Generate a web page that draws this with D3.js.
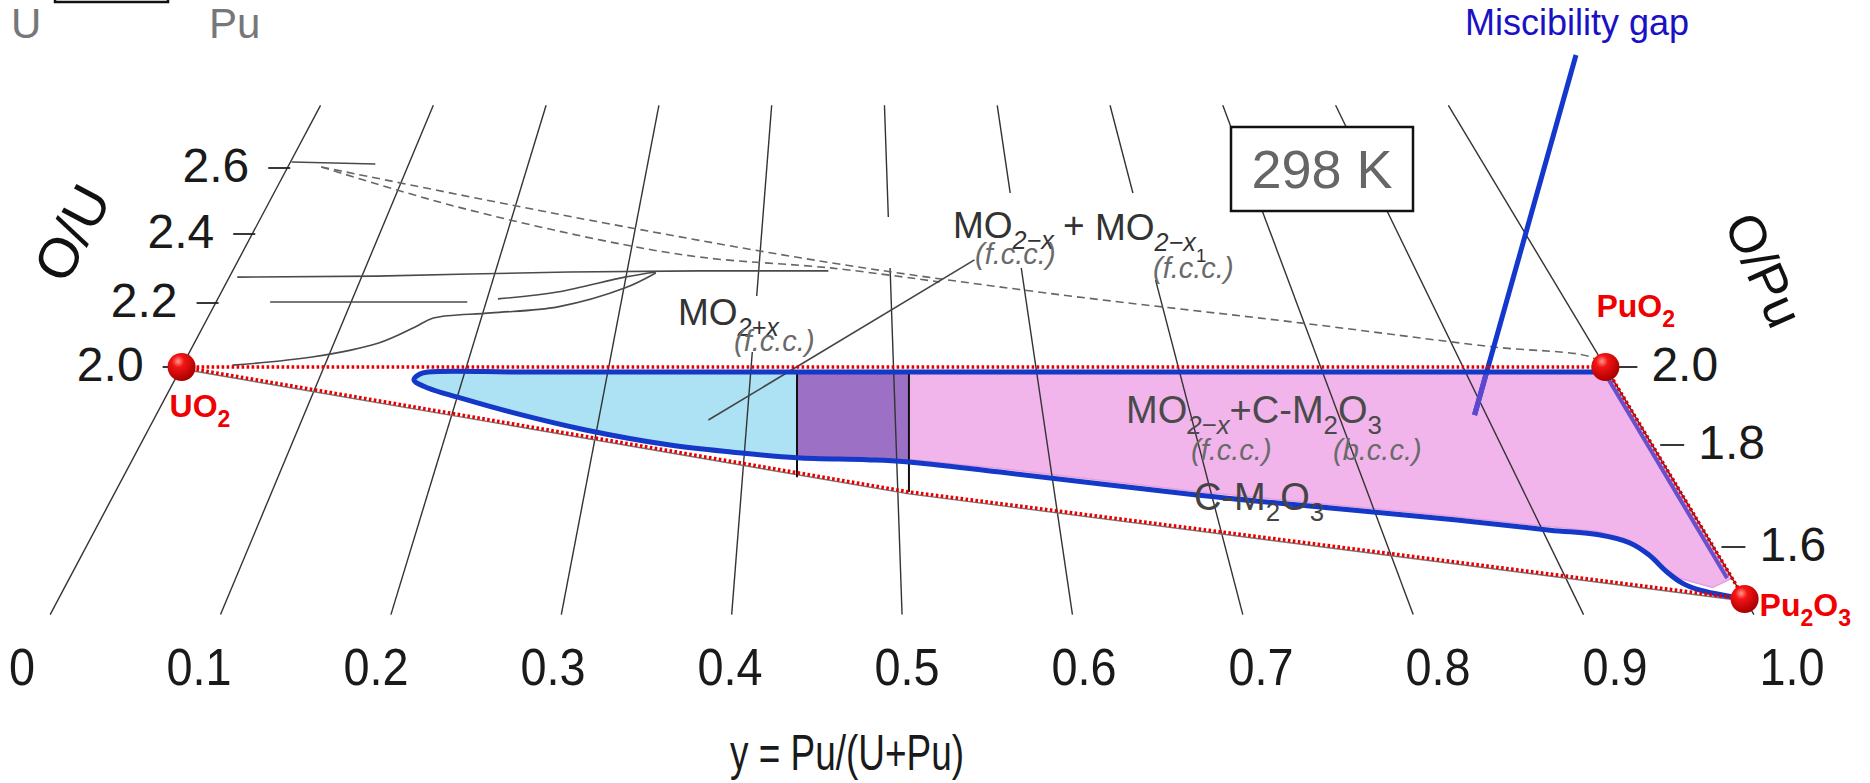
<!DOCTYPE html>
<html>
<head>
<meta charset="utf-8">
<title>U-Pu-O at 298 K</title>
<script src="https://cdn.jsdelivr.net/npm/d3@7"></script>
<style>
  html, body { margin: 0; padding: 0; background: #fff; }
  svg { display: block; }
  text { font-family: "Liberation Sans", Arial, sans-serif; }
</style>
</head>
<body>
<svg id="chart"></svg>
<script>
// ---- values: [y = Pu/(U+Pu), O/M] ----
const puFractions = [0, 0.1, 0.2, 0.3, 0.4, 0.5, 0.6, 0.7, 0.8, 0.9, 1.0];
const puTickLabels = ["0", "0.1", "0.2", "0.3", "0.4", "0.5", "0.6", "0.7", "0.8", "0.9", "1.0"];
const ouTicks = [2.0, 2.2, 2.4, 2.6];
const opuTicks = [2.0, 1.8, 1.6];

const endMembers = [
  { name: "UO2",   parts: [["UO", 0], ["2", 1]],             u: 0, om: 2.0 },
  { name: "PuO2",  parts: [["PuO", 0], ["2", 1]],            u: 1, om: 2.0 },
  { name: "Pu2O3", parts: [["Pu", 0], ["2", 1], ["O", 0], ["3", 1]], u: 1, om: 1.5 }
];

// blue boundary of the MO2-x / miscibility-gap field
const phaseBoundary = [
  [0.994, 1.987], [0.60, 1.987], [0.25, 1.987], [0.1742, 1.987], [0.1691, 1.982],
  [0.1663, 1.967], [0.1779, 1.946], [0.2021, 1.921], [0.2389, 1.885], [0.2935, 1.838],
  [0.3504, 1.800], [0.3925, 1.786], [0.4347, 1.775], [0.4805, 1.771], [0.5060, 1.767],
  [0.5667, 1.747], [0.6906, 1.702], [0.7745, 1.676], [0.8496, 1.653], [0.9047, 1.633],
  [0.9335, 1.624], [0.9501, 1.608], [0.9577, 1.585], [0.9629, 1.552], [0.9682, 1.531],
  [0.9766, 1.517], [0.9938, 1.504], [1.0, 1.5]
];
const singlePhaseRegion = [
  [0.4324, 1.987], [0.25, 1.987], [0.1742, 1.987], [0.1691, 1.982], [0.1663, 1.967],
  [0.1779, 1.946], [0.2021, 1.921], [0.2389, 1.885], [0.2935, 1.838], [0.3504, 1.800],
  [0.3925, 1.786], [0.4347, 1.775]
];
const overlapRegion = [[0.4324, 1.987], [0.5107, 1.987], [0.5080, 1.766], [0.4805, 1.771], [0.4347, 1.775]];
const gapRegion = [
  [0.5107, 1.987], [0.994, 1.987], [1.0, 1.975], [1.0, 1.54], [0.985, 1.522], [0.9682, 1.540],
  [0.9629, 1.560], [0.9577, 1.592], [0.9501, 1.615], [0.9335, 1.631], [0.9047, 1.640],
  [0.8496, 1.660], [0.7745, 1.683], [0.6906, 1.709], [0.5667, 1.754], [0.5080, 1.772]
];
const gapEdge = [[0.997, 1.975], [0.997, 1.54]];
const limitLines = [
  [[0.4324, 1.987], [0.4352, 1.737]],
  [[0.5107, 1.987], [0.5071, 1.708]]
];
const redTop = [[0, 2.0], [1, 2.0]];
const redRight = [[1, 2.0], [1, 1.5]];
const redLower = [[0, 2.0], [0.5071, 1.708], [1, 1.5]];

// grey boundaries of the original diagram
const hyperLine1 = [[0.006, 2.275], [0.111, 2.278], [0.181, 2.284], [0.256, 2.290], [0.355, 2.293], [0.453, 2.293]];
const hyperLine2 = [[0.040, 2.203], [0.186, 2.203]];
const hyperCurve1 = [[0.208, 2.212], [0.251, 2.232], [0.299, 2.275], [0.322, 2.290]];
const hyperCurve2 = [[0.035, 2.006], [0.0885, 2.031], [0.132, 2.075], [0.154, 2.125], [0.165, 2.153],
  [0.206, 2.169], [0.254, 2.188], [0.301, 2.244], [0.322, 2.287]];
const topStub = [[0.001, 2.618], [0.072, 2.612]];
const dashedUpper = [[0.028, 2.603], [0.271, 2.436], [0.456, 2.316], [0.616, 2.229], [0.797, 2.138],
  [0.928, 2.063], [0.994, 2.031], [1.0, 2.0]];
const dashedLower = [[0.028, 2.603], [0.147, 2.488], [0.274, 2.383], [0.354, 2.333], [0.456, 2.301], [0.537, 2.261]];
const tieLine = [[0.374, 1.864], [0.565, 2.325]];
const gapTarget = [0.892, 1.877];

const gridTopOM = 2.79, gridBottomOM = 1.47;

// ---- projection ----
const W = 1870, H = 783;
const omScale = d3.scaleLinear()
  .domain([1.5, 1.6, 1.8, 2.0, 2.2, 2.4, 2.6])
  .range([599, 547, 445, 367, 303, 234, 168]);
const baseScale = d3.scaleLinear().domain([0, 1]).range([51, 1753]);
const labelScale = d3.scaleLinear().domain([0, 1]).range([22, 1792]);
const apex = { x: 850, y: -892 }, baseY = 613;

function proj(u, om) {
  const y = omScale(om);
  const k = (y - apex.y) / (baseY - apex.y);
  return [apex.x + (baseScale(u) - apex.x) * k, y];
}
const px = d => proj(d[0], d[1])[0];
const py = d => proj(d[0], d[1])[1];
const straight = d3.line().x(px).y(py);
const smooth = d3.line().x(px).y(py).curve(d3.curveCatmullRom.alpha(0.5));

const svg = d3.select("#chart").attr("width", W).attr("height", H).attr("viewBox", `0 0 ${W} ${H}`);
const defs = svg.append("defs");

const ball = defs.append("radialGradient").attr("id", "ball")
  .attr("cx", "38%").attr("cy", "30%").attr("r", "70%");
ball.append("stop").attr("offset", "0%").attr("stop-color", "#ff9a90");
ball.append("stop").attr("offset", "30%").attr("stop-color", "#f41414");
ball.append("stop").attr("offset", "100%").attr("stop-color", "#a80000");

const gapPath = straight(gapRegion) + "Z";
defs.append("clipPath").attr("id", "gapClip").append("path").attr("d", gapPath);

// chemical formula with subscripts
function chem(sel, x, y, parts, size, attrs, subScale) {
  const t = sel.append("text").attr("x", x).attr("y", y).attr("font-size", size);
  Object.entries(attrs || {}).forEach(([k, v]) => t.attr(k, v));
  let shift = 0;
  parts.forEach(([s, level]) => {
    const target = level * size * 0.3;
    const ts = t.append("tspan").attr("dy", target - shift)
      .attr("font-size", level ? size * (level > 1 ? 0.5 : (subScale || 0.68)) : size).text(s);
    if (level === 1 && s.includes("x")) ts.attr("font-style", "italic");
    shift = target;
  });
  return t;
}

// ---- fields ----
svg.append("path").attr("d", smooth(singlePhaseRegion) + "Z")
  .attr("fill", "#ade2f5").attr("stroke", "#86d0ee").attr("stroke-width", 1.5);
svg.append("path").attr("d", straight(overlapRegion) + "Z").attr("fill", "#9b70c5");
svg.append("path").attr("d", gapPath)
  .attr("fill", "#f1b5eb").attr("stroke", "#e59ede").attr("stroke-width", 1.5);

// ---- grid: lines of constant Pu/(U+Pu) ----
svg.append("g").attr("stroke", "#333").attr("stroke-width", 1.4)
  .selectAll("line").data(puFractions).join("line")
  .attr("x1", d => proj(d, gridTopOM)[0]).attr("y1", d => proj(d, gridTopOM)[1])
  .attr("x2", d => proj(d, gridBottomOM)[0]).attr("y2", d => proj(d, gridBottomOM)[1]);

// ---- grey boundaries ----
const gGrey = svg.append("g").attr("fill", "none").attr("stroke", "#4a4a4a").attr("stroke-width", 1.6);
[hyperLine1, hyperLine2, topStub].forEach(d => gGrey.append("path").attr("d", straight(d)));
[hyperCurve1, hyperCurve2].forEach(d => gGrey.append("path").attr("d", smooth(d)));
[dashedUpper, dashedLower].forEach(d => gGrey.append("path").attr("d", smooth(d))
  .attr("stroke", "#666").attr("stroke-dasharray", "8 5"));
gGrey.append("path").attr("d", straight(redLower)).attr("stroke", "#777").attr("stroke-width", 1.4)
  .attr("transform", "translate(0,2)");

// white patches behind phase labels
const patches = [[668, 296, 160, 56], [884, 217, 118, 51], [1000, 193, 62, 75], [1062, 193, 178, 87]];
svg.append("g").selectAll("rect").data(patches).join("rect")
  .attr("x", d => d[0]).attr("y", d => d[1]).attr("width", d => d[2]).attr("height", d => d[3])
  .attr("fill", "#fff");

// temperature box
svg.append("rect").attr("x", 1231).attr("y", 127).attr("width", 182).attr("height", 84)
  .attr("fill", "#fff").attr("stroke", "#111").attr("stroke-width", 2.5);
svg.append("text").attr("x", 1322).attr("y", 188).attr("text-anchor", "middle")
  .attr("font-size", 54).attr("fill", "#666").text("298 K");

// miscibility gap pointer
const tgt = proj(gapTarget[0], gapTarget[1]);
svg.append("line").attr("x1", 1576).attr("y1", 55).attr("x2", tgt[0]).attr("y2", tgt[1])
  .attr("stroke", "#1438cc").attr("stroke-width", 5);
svg.append("line").attr("x1", 1576).attr("y1", 55).attr("x2", tgt[0]).attr("y2", tgt[1])
  .attr("stroke", "#5c48cf").attr("stroke-width", 5).attr("clip-path", "url(#gapClip)");
svg.append("text").attr("x", 1577).attr("y", 35).attr("text-anchor", "middle")
  .attr("font-size", 36).attr("fill", "#1a10c4").text("Miscibility gap");

svg.append("path").attr("d", straight(tieLine)).attr("stroke", "#444").attr("stroke-width", 1.6);

// ---- limits and boundary ----
svg.append("g").attr("stroke", "#111").attr("stroke-width", 2)
  .selectAll("path").data(limitLines).join("path").attr("d", d => straight(d));
svg.append("path").attr("d", smooth(phaseBoundary)).attr("fill", "none")
  .attr("stroke", "#1438c8").attr("stroke-width", 5).attr("stroke-linejoin", "round");
svg.append("path").attr("d", straight(gapEdge)).attr("stroke", "#6a50c8").attr("stroke-width", 4);

// red composition limits
svg.append("g").attr("fill", "none").attr("stroke", "#e80000").attr("stroke-width", 3.6)
  .attr("stroke-dasharray", "2.6 2.4")
  .selectAll("path").data([redTop, redRight, redLower]).join("path").attr("d", d => straight(d));

// ---- axes ----
const axisG = svg.append("g").attr("stroke", "#222").attr("stroke-width", 1.8);
ouTicks.forEach(v => {
  const [x, y] = proj(0, v);
  axisG.append("line").attr("x1", x - 19).attr("x2", x + 3).attr("y1", y).attr("y2", y);
});
opuTicks.forEach(v => {
  const [x, y] = proj(1, v);
  axisG.append("line").attr("x1", x + 8).attr("x2", x + 32).attr("y1", y).attr("y2", y);
});
svg.append("g").selectAll("text").data(ouTicks).join("text")
  .attr("x", d => proj(0, d)[0] - 38).attr("y", d => proj(0, d)[1] + 14)
  .attr("text-anchor", "end").attr("font-size", 48).attr("fill", "#1a1a1a")
  .text(d => d.toFixed(1));
svg.append("g").selectAll("text").data(opuTicks).join("text")
  .attr("x", d => proj(1, d)[0] + 46).attr("y", d => proj(1, d)[1] + 14)
  .attr("font-size", 48).attr("fill", "#1a1a1a")
  .text(d => d.toFixed(1));

// bottom labels are set in a condensed face in the original
svg.append("g").selectAll("text").data(puFractions).join("text")
  .attr("x", d => labelScale(d)).attr("y", 685).attr("text-anchor", "middle")
  .attr("font-size", 52).attr("fill", "#1a1a1a")
  .text((d, i) => puTickLabels[i])
  .each(function () {
    const w = this.getComputedTextLength();
    d3.select(this).attr("textLength", w * 0.9).attr("lengthAdjust", "spacingAndGlyphs");
  });

svg.append("text").attr("x", 847).attr("y", 770).attr("text-anchor", "middle")
  .attr("font-size", 50).attr("fill", "#1a1a1a")
  .attr("textLength", 234).attr("lengthAdjust", "spacingAndGlyphs")
  .text("y = Pu/(U+Pu)");

svg.append("text").attr("transform", "translate(72,233) rotate(-62)")
  .attr("text-anchor", "middle").attr("dominant-baseline", "central")
  .attr("font-size", 56).attr("fill", "#111").text("O/U");
svg.append("text").attr("transform", "translate(1764,270) rotate(66)")
  .attr("text-anchor", "middle").attr("dominant-baseline", "central")
  .attr("font-size", 52).attr("fill", "#111").text("O/Pu");

// ---- end members ----
const labelOffset = { UO2: [-12, 50], PuO2: [-9, -50], Pu2O3: [15, 17] };
svg.append("g").selectAll("circle").data(endMembers).join("circle")
  .attr("cx", d => proj(d.u, d.om)[0]).attr("cy", d => proj(d.u, d.om)[1])
  .attr("r", 14).attr("fill", "url(#ball)");
endMembers.forEach(d => {
  const [x, y] = proj(d.u, d.om);
  const o = labelOffset[d.name];
  chem(svg, x + o[0], y + o[1], d.parts, 32, { "font-weight": "bold", fill: "#f00000" }, 0.72);
});

// ---- phase labels ----
const ital = { "font-style": "italic", fill: "#6a6a6a" };
chem(svg, 678, 325, [["MO", 0], ["2+x", 1]], 37, { fill: "#333" });
chem(svg, 734, 351, [["(f.c.c.)", 0]], 29, ital);
chem(svg, 953, 238, [["MO", 0], ["2\u2212x", 1]], 37, { fill: "#333" });
chem(svg, 1063, 238, [["+", 0]], 37, { fill: "#333" });
chem(svg, 1095, 240, [["MO", 0], ["2\u2212x", 1], ["1", 2]], 37, { fill: "#333" });
chem(svg, 975, 264, [["(f.c.c.)", 0]], 29, ital);
chem(svg, 1153, 278, [["(f.c.c.)", 0]], 29, ital);

chem(svg, 1126, 423, [["MO", 0], ["2\u2212x", 1], ["+C-M", 0], ["2", 1], ["O", 0], ["3", 1]], 38, { fill: "#4a4a4a" });
chem(svg, 1191, 460, [["(f.c.c.)", 0]], 29, ital);
chem(svg, 1333, 460, [["(b.c.c.)", 0]], 29, ital);
chem(svg, 1194, 510, [["C-M", 0], ["2", 1], ["O", 0], ["3", 1]], 38, { fill: "#444" });

// ---- corner legend ----
svg.append("rect").attr("x", 55).attr("y", -20).attr("width", 113).attr("height", 22)
  .attr("fill", "none").attr("stroke", "#111").attr("stroke-width", 2.5);
svg.append("text").attr("x", 11).attr("y", 38).attr("font-size", 42).attr("fill", "#777").text("U");
svg.append("text").attr("x", 209).attr("y", 38).attr("font-size", 42).attr("fill", "#777").text("Pu");
</script>
</body>
</html>
